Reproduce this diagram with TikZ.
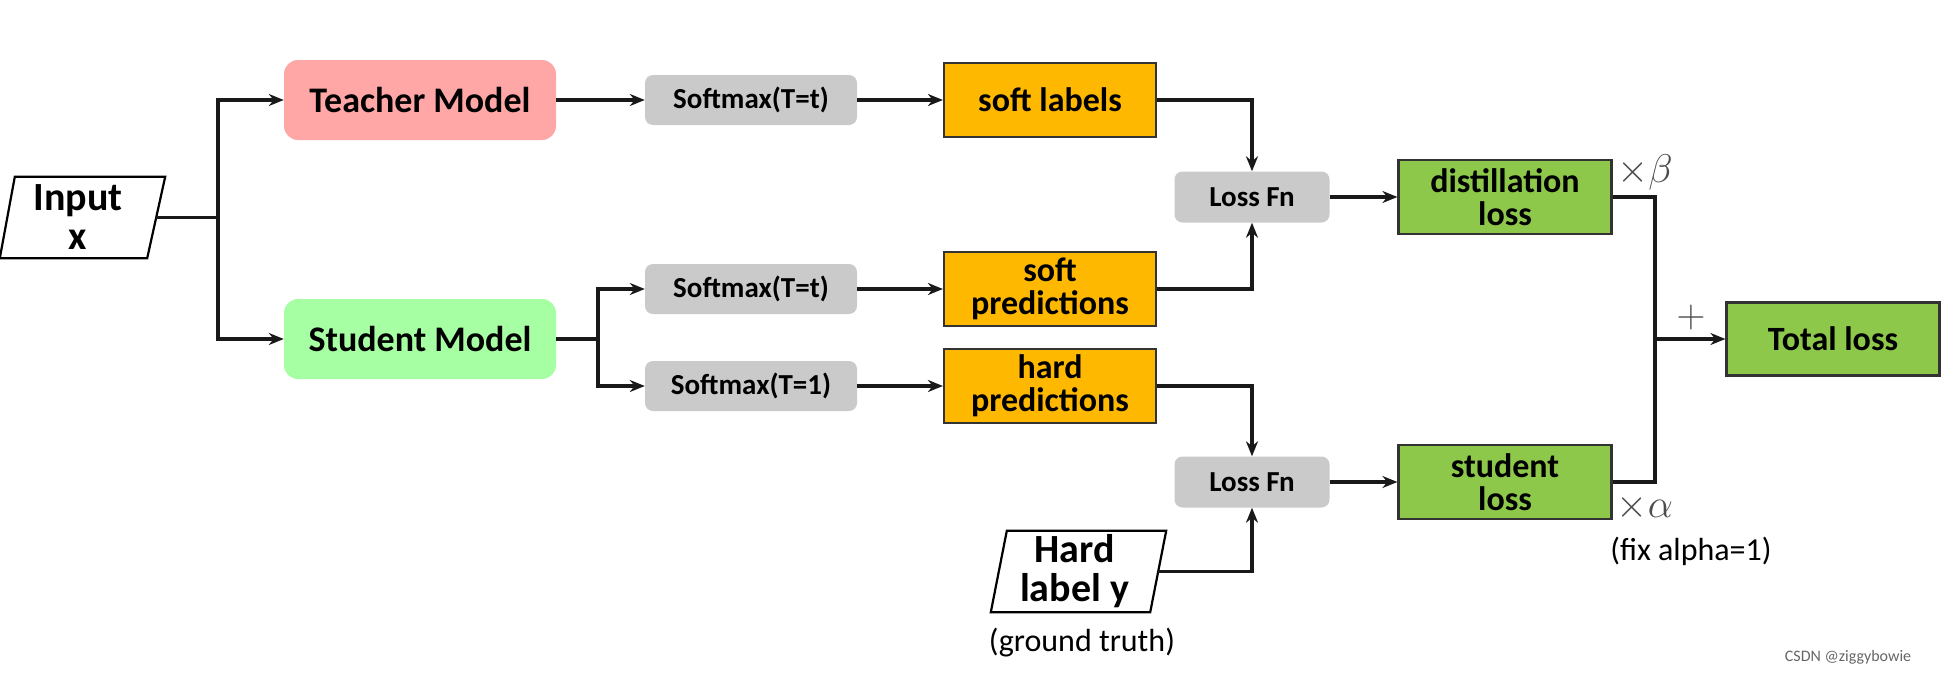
\RequirePackage{fix-cm}
\documentclass[tikz,border=0pt]{standalone}
\usepackage{fontspec}
\setmainfont{Carlito}
\usetikzlibrary{arrows.meta}
\definecolor{pinkT}{HTML}{FFA6A6}
\definecolor{greenS}{HTML}{A6FFA2}
\definecolor{grayB}{HTML}{CACACA}
\definecolor{orangeB}{HTML}{FFB800}
\definecolor{greenB}{HTML}{8DC84B}
\begin{document}
\begin{tikzpicture}[x=1pt,y=-1pt,
  line/.style={line width=3.3pt, draw=black!90},
  arr/.style={line, -{Stealth[length=15pt,width=12pt]}},
  model/.style={rounded corners=14pt, minimum width=272pt, minimum height=80pt, inner sep=0pt, font=\fontsize{36}{40}\selectfont\bfseries},
  smbox/.style={fill=grayB, rounded corners=8pt, minimum width=212pt, minimum height=50pt, inner sep=0pt, font=\fontsize{29}{32}\selectfont\bfseries},
  obox/.style={fill=orangeB, draw=black!80, line width=2.2pt, minimum width=212pt, minimum height=74pt, inner sep=0pt, align=center, font=\fontsize{34}{33}\selectfont\bfseries},
  lossbox/.style={fill=grayB, rounded corners=8pt, minimum width=155pt, minimum height=51pt, inner sep=0pt, font=\fontsize{29}{32}\selectfont\bfseries},
  gbox/.style={fill=greenB, draw=black!80, line width=2.2pt, minimum width=213pt, minimum height=74pt, inner sep=0pt, align=center, font=\fontsize{34}{33}\selectfont\bfseries},
  para/.style={minimum width=156pt, minimum height=81pt, inner sep=0pt, align=center, font=\fontsize{40}{39}\selectfont\bfseries},
  note/.style={font=\fontsize{32}{36}\selectfont},
  mlab/.style={font=\fontsize{40}{44}\selectfont, text=black!70}
]
\useasboundingbox (0,0) rectangle (1955,675);

% input
\node[para] (in) at (78,217.5) {Input\\x};
\draw[line width=2.2pt] ([xshift=15pt]in.north west) -- ([xshift=9pt]in.north east) -- ([xshift=-9pt]in.south east) -- (in.south west) -- cycle;

% models
\node[model, fill=pinkT] (teacher) at (420,100) {Teacher Model};
\node[model, fill=greenS] (student) at (420,339) {Student Model};

% softmax
\node[smbox] (smT) at (751,100) {Softmax(T=t)};
\node[smbox] (smS) at (751,289) {Softmax(T=t)};
\node[smbox] (sm1) at (751,386) {Softmax(T=1)};

% outputs
\node[obox] (softlab) at (1050,100) {soft labels};
\node[obox] (softpred) at (1050,289) {soft\\predictions};
\node[obox] (hardpred) at (1050,386) {hard\\predictions};

% loss fns
\node[lossbox] (loss1) at (1252,197) {Loss Fn};
\node[lossbox] (loss2) at (1252,482) {Loss Fn};

% hard label
\node[para, minimum width=167pt] (hard) at (1074.5,571.5) {Hard\\label y};
\draw[line width=2.2pt] ([xshift=16pt]hard.north west) -- ([xshift=8pt]hard.north east) -- ([xshift=-8pt]hard.south east) -- (hard.south west) -- cycle;
\node[note] (gt) at (1082,643) {(ground truth)};

% losses
\node[gbox] (distill) at (1505,197) {distillation\\loss};
\node[gbox] (sloss) at (1505,482) {student\\loss};
\node[gbox, minimum height=73pt] (total) at (1833,339) {Total loss};

% branch coordinates
\coordinate (b1) at (218,217.5);
\coordinate (b2) at (598,339);
\coordinate (m1) at (1655,197);
\coordinate (m2) at (1655,482);
\coordinate (m3) at (1655,339);

% connectors
\draw[line] (in.east) -- (b1);
\draw[arr] (b1) |- (teacher.west);
\draw[arr] (b1) |- (student.west);
\draw[arr] (teacher.east) -- (smT.west);
\draw[arr] (smT.east) -- (softlab.west);
\draw[line] (student.east) -- (b2);
\draw[arr] (b2) |- (smS.west);
\draw[arr] (b2) |- (sm1.west);
\draw[arr] (smS.east) -- (softpred.west);
\draw[arr] (sm1.east) -- (hardpred.west);
\draw[arr] (softlab.east) -| (loss1.north);
\draw[arr] (softpred.east) -| (loss1.south);
\draw[arr] (hardpred.east) -| (loss2.north);
\draw[arr] (hard.east) -| (loss2.south);
\draw[arr] (loss1.east) -- (distill.west);
\draw[arr] (loss2.east) -- (sloss.west);
\draw[line] (distill.east) -- (m1) -- (m2) -- (sloss.east);
\draw[arr] (m3) -- (total.west);

% labels
\node[mlab] (beta) at (1645,172) {$\times\beta$};
\node[mlab] (alpha) at (1645,507) {$\times\alpha$};
\node[mlab] (plus) at (1691,317) {$+$};
\node[note] (fix) at (1691,551) {(fix alpha=1)};
\node[font=\fontsize{16}{18}\selectfont, text=black!60] (wm) at (1848,657) {CSDN @ziggybowie};
\end{tikzpicture}
\end{document}
